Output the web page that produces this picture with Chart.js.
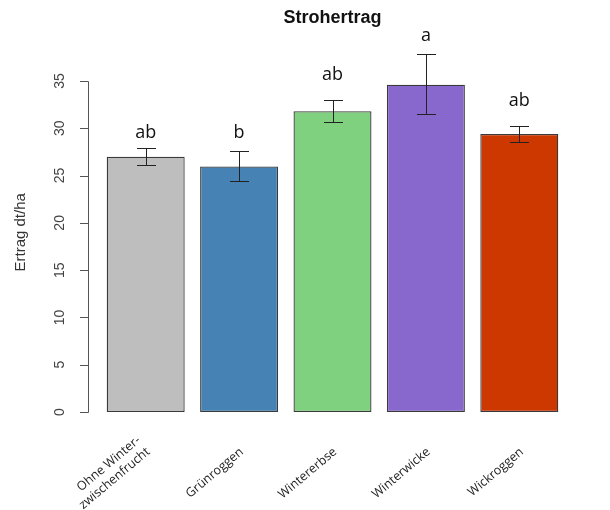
<!DOCTYPE html>
<html>
<head>
<meta charset="utf-8">
<script src="https://cdn.jsdelivr.net/npm/chart.js@4/dist/chart.umd.min.js"></script>
<style>
  html, body { margin: 0; padding: 0; background: #ffffff; }
  #wrap { width: 610px; height: 510px; }
</style>
</head>
<body>
<div id="wrap"><canvas id="c" width="610" height="510"></canvas></div>
<script>
// Strohertrag je Variante (dt/ha) mit Fehlerbalken und Signifikanzbuchstaben.
// Category labels are bottom-aligned two-line entries (empty first line for single names).
const categories = [
  ['Ohne Winter-', 'zwischenfrucht'],
  ['', 'Grünroggen'],
  ['', 'Wintererbse'],
  ['', 'Winterwicke'],
  ['', 'Wickroggen']
];
const meanYield = [27.0, 25.95, 31.8, 34.6, 29.4];
const errLow    = [26.1, 24.4, 30.65, 31.5, 28.6];
const errHigh   = [27.95, 27.6, 33.0, 37.85, 30.25];
const letters   = ['ab', 'b', 'ab', 'a', 'ab'];
const letterY   = [29.0, 29.0, 35.1, 39.2, 32.4];
const barColors = ['#BEBEBE', '#4682B4', '#7FD07F', '#8968CD', '#CD3700'];
const yTicksMax = 35;

// y axis line and tick marks, drawn only over the labelled range
const axisPlugin = {
  id: 'rAxis',
  afterDraw(chart) {
    const { ctx, chartArea, scales: { y } } = chart;
    const ax = chartArea.left - 11;
    ctx.save();
    ctx.strokeStyle = '#555555';
    ctx.lineWidth = 1;
    ctx.beginPath();
    ctx.moveTo(ax + 0.5, Math.round(y.getPixelForValue(0)) + 0.5);
    ctx.lineTo(ax + 0.5, Math.round(y.getPixelForValue(yTicksMax)) + 0.5);
    for (let v = 0; v <= yTicksMax; v += 5) {
      const py = Math.round(y.getPixelForValue(v)) + 0.5;
      ctx.moveTo(ax + 0.5, py);
      ctx.lineTo(ax - 8, py);
    }
    ctx.stroke();
    ctx.restore();
  }
};

// error bars and letters above the bars
const errPlugin = {
  id: 'errBars',
  afterDatasetsDraw(chart) {
    const { ctx, scales: { y } } = chart;
    const meta = chart.getDatasetMeta(0);
    ctx.save();
    ctx.strokeStyle = '#222222';
    ctx.lineWidth = 1;
    meta.data.forEach((bar, i) => {
      const x = Math.round(bar.x) + 0.5;
      const yh = Math.round(y.getPixelForValue(errHigh[i])) + 0.5;
      const yl = Math.round(y.getPixelForValue(errLow[i])) + 0.5;
      ctx.beginPath();
      ctx.moveTo(x, yh); ctx.lineTo(x, yl);
      ctx.moveTo(x - 9.5, yh); ctx.lineTo(x + 9.5, yh);
      ctx.moveTo(x - 9.5, yl); ctx.lineTo(x + 9.5, yl);
      ctx.stroke();
    });
    ctx.fillStyle = '#111111';
    ctx.font = '18px "Open Sans"';
    ctx.textAlign = 'center';
    ctx.textBaseline = 'alphabetic';
    meta.data.forEach((bar, i) => {
      ctx.fillText(letters[i], bar.x, y.getPixelForValue(letterY[i]));
    });
    ctx.restore();
  }
};

new Chart(document.getElementById('c'), {
  type: 'bar',
  data: {
    labels: categories,
    datasets: [{
      data: meanYield,
      backgroundColor: barColors,
      borderColor: '#3a3a3a',
      borderWidth: 1.3,
      borderSkipped: false,
      barPercentage: 0.835,
      categoryPercentage: 1.0
    }]
  },
  options: {
    responsive: false,
    animation: false,
    events: [],
    layout: { padding: { left: 0, right: 44, top: 0, bottom: 0 } },
    plugins: {
      legend: { display: false },
      tooltip: { enabled: false },
      title: {
        display: true,
        text: 'Strohertrag',
        fullSize: false,
        color: '#111111',
        font: { family: '"Liberation Sans", Arial, sans-serif', size: 18, weight: 'bold' },
        padding: { top: 7, bottom: 24 }
      }
    },
    scales: {
      x: {
        type: 'category',
        offset: true,
        grid: { display: false, drawTicks: false },
        border: { display: false },
        afterFit(s) { s.height = 98; },
        ticks: {
          minRotation: 40,
          maxRotation: 40,
          autoSkip: false,
          padding: 21,
          labelOffset: -7,
          color: '#222222',
          font: { family: '"Open Sans", sans-serif', size: 12.5 }
        }
      },
      y: {
        min: 0,
        max: 38,
        grid: { display: false, drawTicks: false },
        border: { display: false },
        afterFit(s) { s.width = 99; },
        title: {
          display: true,
          text: 'Ertrag dt/ha',
          color: '#333333',
          font: { family: '"Liberation Sans", Arial, sans-serif', size: 15 },
          padding: { top: 12, bottom: 0 }
        },
        ticks: {
          stepSize: 5,
          minRotation: 90,
          maxRotation: 90,
          crossAlign: 'center',
          padding: 31,
          color: '#444444',
          font: { family: '"Liberation Sans", Arial, sans-serif', size: 14 },
          callback: (v) => (v <= yTicksMax ? String(v) : '')
        }
      }
    }
  },
  plugins: [axisPlugin, errPlugin]
});
</script>
</body>
</html>
